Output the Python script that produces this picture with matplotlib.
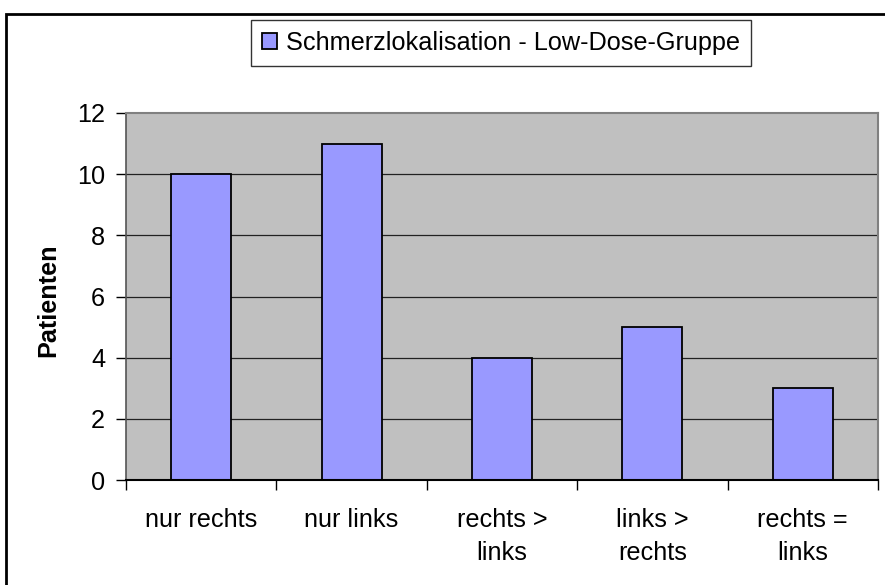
import matplotlib
matplotlib.use("Agg")
import matplotlib.pyplot as plt
from matplotlib.patches import Patch, Rectangle
from matplotlib.ticker import FixedLocator

categories = ["nur rechts", "nur links", "rechts >\nlinks", "links >\nrechts", "rechts =\nlinks"]
values = [10, 11, 4, 5, 3]
series_name = "Schmerzlokalisation - Low-Dose-Gruppe"
y_ticks = [0, 2, 4, 6, 8, 10, 12]
y_label = "Patienten"

W, H = 885, 585
FS = 18.2
plt.rcParams['font.family'] = ['Liberation Sans', 'DejaVu Sans']
fig = plt.figure(figsize=(W / 100, H / 100), dpi=100)
fig.patch.set_facecolor("white")

L, R, T, B = 126, 878, 113, 480
ax = fig.add_axes([L / W, (H - B) / H, (R - L) / W, (B - T) / H])
ax.set_facecolor("#C0C0C0")

x = list(range(len(categories)))
ax.bar(x, values, width=0.4, color="#9999FF", edgecolor="black", linewidth=1.3, zorder=3)

ax.set_xlim(-0.5, len(categories) - 0.5)
ax.set_ylim(0, 12)
ax.set_yticks(y_ticks)
ax.set_yticklabels([str(v) for v in y_ticks], fontsize=FS)
for v in y_ticks[1:-1]:
    ax.axhline(v, color="#222222", linewidth=0.9, zorder=1)

ax.set_xticks(x)
ax.set_xticklabels(categories, fontsize=FS, linespacing=1.5)
ax.xaxis.set_minor_locator(FixedLocator([i - 0.5 for i in range(len(categories) + 1)]))
ax.tick_params(axis="x", which="major", length=0, pad=20)
ax.tick_params(axis="x", which="minor", length=7, width=1, direction="out", color="black")
ax.tick_params(axis="y", which="major", length=7, width=1, direction="out", pad=8, color="black")

for s in ["top", "right"]:
    ax.spines[s].set_color("#808080")
    ax.spines[s].set_linewidth(1.5)
ax.spines["left"].set_color("#555555")
ax.spines["left"].set_linewidth(1.2)
ax.spines["bottom"].set_color("black")
ax.spines["bottom"].set_linewidth(1.5)
ax.spines["bottom"].set_zorder(5)

fig.text(48 / W, 1 - 300 / H, y_label, rotation=90, ha="center", va="center",
         fontsize=FS, fontweight="bold")

leg = fig.legend(handles=[Patch(facecolor="#9999FF", edgecolor="black", linewidth=1.3, label=series_name)],
                 loc="center", bbox_to_anchor=(501 / W, 1 - 43 / H), fontsize=FS,
                 frameon=True, fancybox=False, handlelength=0.6, handleheight=0.6,
                 handletextpad=0.35, borderpad=0.42, borderaxespad=0)
leg.get_frame().set_edgecolor("black")
leg.get_frame().set_linewidth(1.0)

border = Rectangle((6 / W, -0.2), 2.0, 1.2 - 14 / H, transform=fig.transFigure,
                   fill=False, edgecolor="black", linewidth=2.0, clip_on=False)
fig.patches.append(border)

fig.savefig("out.png", dpi=100)
